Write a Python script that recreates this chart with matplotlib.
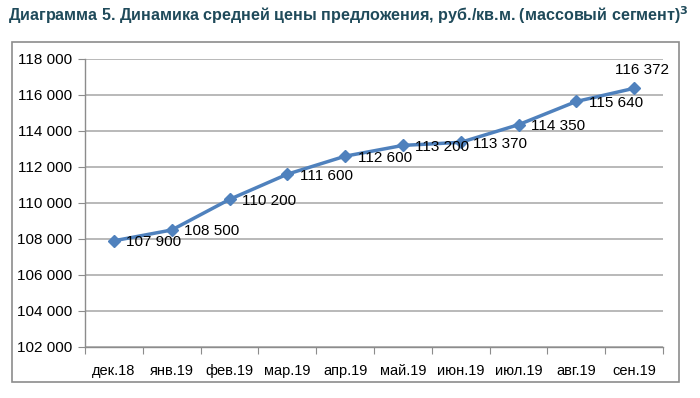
import matplotlib
matplotlib.use("Agg")
import matplotlib.pyplot as plt
from matplotlib.patches import Rectangle
from matplotlib.ticker import FuncFormatter, FixedLocator, NullFormatter

months = ["дек.18", "янв.19", "фев.19", "мар.19", "апр.19",
          "май.19", "июн.19", "июл.19", "авг.19", "сен.19"]
prices = [107900, 108500, 110200, 111600, 112600,
          113200, 113370, 114350, 115640, 116372]
yticks = list(range(102000, 118001, 2000))

plt.rcParams["font.family"] = ["Liberation Sans", "DejaVu Sans"]

fig = plt.figure(figsize=(7, 3.98), dpi=100)
W, H = 700, 398

# outer chart frame
fig.patches.append(Rectangle((12 / W, 1 - 382 / H), (679 - 12) / W, (382 - 42) / H,
                             transform=fig.transFigure, fill=False,
                             edgecolor="#8c8c8c", linewidth=1.2))

fig.text(8 / W, 1 - 15 / H,
         "Диаграмма 5. Динамика средней цены предложения, руб./кв.м. (массовый сегмент)$^{\\mathbf{3}}$",
         fontsize=11.6, fontweight="bold", color="#1f4a5a", va="center", ha="left")

ax = fig.add_axes([85 / W, 1 - 347 / H, (663 - 85) / W, (347 - 59) / H])

x = list(range(len(months)))
ax.plot(x, prices, color="#4f81bd", linewidth=2.5, marker="D", markersize=6.5,
        markerfacecolor="#4f81bd", markeredgecolor="#4f81bd", zorder=3)

for i, v in enumerate(prices):
    lbl = f"{v:,}".replace(",", " ")
    if i == len(prices) - 1:
        ax.annotate(lbl, (i, v), xytext=(6, 8), textcoords="offset points",
                    ha="center", va="bottom", fontsize=11)
    else:
        ax.annotate(lbl, (i, v), xytext=(9, -1), textcoords="offset points",
                    ha="left", va="center", fontsize=11)

ax.set_xlim(-0.5, len(months) - 0.5)
ax.set_ylim(102000, 118000)
ax.set_yticks(yticks)
ax.yaxis.set_major_formatter(FuncFormatter(lambda v, p: f"{int(v):,}".replace(",", " ")))
ax.grid(axis="y", color="#b3b3b3", linewidth=1.3)
ax.set_axisbelow(True)

ax.xaxis.set_major_locator(FixedLocator([i - 0.5 for i in range(len(months) + 1)]))
ax.xaxis.set_major_formatter(NullFormatter())
ax.xaxis.set_minor_locator(FixedLocator(x))
ax.set_xticklabels(months, minor=True)
ax.tick_params(axis="x", which="major", length=5, color="#8c8c8c", direction="out")
ax.tick_params(axis="x", which="minor", length=0, pad=12, labelsize=10.5)
ax.tick_params(axis="y", length=5, color="#8c8c8c", labelsize=11, pad=4)

for s in ["top", "right"]:
    ax.spines[s].set_visible(False)
ax.spines["left"].set_color("#8c8c8c")
ax.spines["bottom"].set_color("#8c8c8c")
ax.spines["left"].set_linewidth(1)
ax.spines["bottom"].set_linewidth(1)

fig.savefig("out.png", dpi=100)
